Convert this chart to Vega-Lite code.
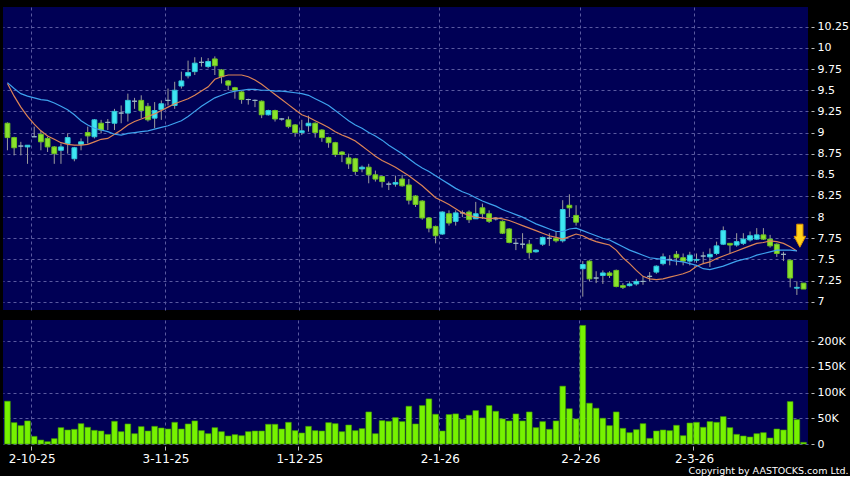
{
"$schema": "https://vega.github.io/schema/vega-lite/v6.json",
"background": "#000000",
"padding": {"left": 3, "top": 7, "right": 2, "bottom": 0},
"bounds": "flush",
"spacing": 10,
"config": {
  "view": {"fill": "#000055", "stroke": null},
  "font": "DejaVu Sans",
  "axis": {"labelColor": "#ffffff", "labelFont": "DejaVu Sans", "gridColor": "#5a5aa0", "gridDash": [3, 3], "gridWidth": 1, "domain": false, "title": null, "tickColor": "#bbbbbb", "labelOverlap": false, "labelBound": false, "labelFlush": false},
  "axisQuantitative": {"labelOverlap": false},
  "axisBand": {"labelOverlap": false}
},
"title": {"text": "Copyright by AASTOCKS.com Ltd.", "orient": "bottom", "anchor": "end", "frame": "bounds", "color": "#ffffff", "fontSize": 9.5, "fontWeight": "normal", "font": "DejaVu Sans", "offset": 2},
"datasets": {
"marker": [{"date": "2026-03-23", "price": 7.78}],
"candles": [
{"date":"2025-09-25","open":9.11,"high":9.12,"low":8.79,"close":8.94,"volume":83300,"ma10":9.58,"ma20":9.59},
{"date":"2025-09-26","open":8.94,"high":8.95,"low":8.73,"close":8.82,"volume":41600,"ma10":9.43,"ma20":9.52},
{"date":"2025-09-29","open":8.84,"high":8.89,"low":8.73,"close":8.84,"volume":35700,"ma10":9.30,"ma20":9.46},
{"date":"2025-09-30","open":8.83,"high":8.85,"low":8.63,"close":8.85,"volume":44900,"ma10":9.19,"ma20":9.43},
{"date":"2025-10-02","open":8.95,"high":9.07,"low":8.95,"close":8.95,"volume":14900,"ma10":9.10,"ma20":9.41},
{"date":"2025-10-03","open":8.98,"high":9.02,"low":8.79,"close":8.89,"volume":7700,"ma10":9.02,"ma20":9.39},
{"date":"2025-10-06","open":8.93,"high":8.95,"low":8.77,"close":8.83,"volume":4500,"ma10":8.96,"ma20":9.38},
{"date":"2025-10-08","open":8.83,"high":8.84,"low":8.63,"close":8.75,"volume":10400,"ma10":8.92,"ma20":9.35},
{"date":"2025-10-09","open":8.79,"high":8.87,"low":8.63,"close":8.83,"volume":31800,"ma10":8.88,"ma20":9.31},
{"date":"2025-10-10","open":8.87,"high":8.99,"low":8.75,"close":8.94,"volume":27300,"ma10":8.86,"ma20":9.27},
{"date":"2025-10-13","open":8.69,"high":8.83,"low":8.66,"close":8.82,"volume":28600,"ma10":8.85,"ma20":9.21},
{"date":"2025-10-14","open":8.86,"high":8.93,"low":8.79,"close":8.89,"volume":39600,"ma10":8.85,"ma20":9.14},
{"date":"2025-10-15","open":9.00,"high":9.07,"low":8.87,"close":8.96,"volume":32500,"ma10":8.86,"ma20":9.09},
{"date":"2025-10-16","open":8.95,"high":9.16,"low":8.93,"close":9.15,"volume":26600,"ma10":8.89,"ma20":9.05},
{"date":"2025-10-17","open":9.11,"high":9.15,"low":8.99,"close":9.03,"volume":25300,"ma10":8.92,"ma20":9.03},
{"date":"2025-10-20","open":9.12,"high":9.16,"low":9.03,"close":9.12,"volume":18800,"ma10":8.93,"ma20":9.01},
{"date":"2025-10-21","open":9.11,"high":9.28,"low":9.03,"close":9.25,"volume":44200,"ma10":8.98,"ma20":8.98},
{"date":"2025-10-22","open":9.23,"high":9.32,"low":9.11,"close":9.23,"volume":24000,"ma10":9.03,"ma20":8.97},
{"date":"2025-10-23","open":9.23,"high":9.46,"low":9.13,"close":9.38,"volume":39000,"ma10":9.09,"ma20":8.99},
{"date":"2025-10-24","open":9.37,"high":9.41,"low":9.28,"close":9.37,"volume":20100,"ma10":9.13,"ma20":9.00},
{"date":"2025-10-27","open":9.38,"high":9.44,"low":9.17,"close":9.26,"volume":33800,"ma10":9.16,"ma20":9.01},
{"date":"2025-10-28","open":9.31,"high":9.35,"low":9.13,"close":9.15,"volume":25300,"ma10":9.19,"ma20":9.02},
{"date":"2025-10-30","open":9.17,"high":9.36,"low":9.05,"close":9.26,"volume":34400,"ma10":9.22,"ma20":9.04},
{"date":"2025-10-31","open":9.27,"high":9.38,"low":9.15,"close":9.34,"volume":31200,"ma10":9.26,"ma20":9.06},
{"date":"2025-11-03","open":9.38,"high":9.52,"low":9.32,"close":9.38,"volume":29200,"ma10":9.30,"ma20":9.08},
{"date":"2025-11-04","open":9.32,"high":9.60,"low":9.28,"close":9.50,"volume":42200,"ma10":9.34,"ma20":9.11},
{"date":"2025-11-05","open":9.55,"high":9.72,"low":9.52,"close":9.61,"volume":29200,"ma10":9.37,"ma20":9.14},
{"date":"2025-11-06","open":9.67,"high":9.85,"low":9.64,"close":9.71,"volume":39000,"ma10":9.40,"ma20":9.19},
{"date":"2025-11-07","open":9.72,"high":9.89,"low":9.68,"close":9.82,"volume":44900,"ma10":9.44,"ma20":9.25},
{"date":"2025-11-10","open":9.83,"high":9.89,"low":9.78,"close":9.83,"volume":26000,"ma10":9.49,"ma20":9.31},
{"date":"2025-11-11","open":9.78,"high":9.88,"low":9.76,"close":9.84,"volume":20100,"ma10":9.54,"ma20":9.36},
{"date":"2025-11-12","open":9.87,"high":9.90,"low":9.68,"close":9.79,"volume":31800,"ma10":9.63,"ma20":9.41},
{"date":"2025-11-13","open":9.74,"high":9.75,"low":9.58,"close":9.66,"volume":24000,"ma10":9.66,"ma20":9.44},
{"date":"2025-11-14","open":9.61,"high":9.62,"low":9.50,"close":9.56,"volume":15600,"ma10":9.68,"ma20":9.47},
{"date":"2025-11-17","open":9.53,"high":9.54,"low":9.40,"close":9.50,"volume":18200,"ma10":9.68,"ma20":9.49},
{"date":"2025-11-18","open":9.48,"high":9.49,"low":9.34,"close":9.39,"volume":16200,"ma10":9.68,"ma20":9.50},
{"date":"2025-11-19","open":9.39,"high":9.40,"low":9.33,"close":9.39,"volume":24000,"ma10":9.66,"ma20":9.51},
{"date":"2025-11-20","open":9.38,"high":9.39,"low":9.30,"close":9.38,"volume":25300,"ma10":9.62,"ma20":9.51},
{"date":"2025-11-21","open":9.37,"high":9.38,"low":9.17,"close":9.21,"volume":25300,"ma10":9.57,"ma20":9.50},
{"date":"2025-11-24","open":9.21,"high":9.27,"low":9.20,"close":9.26,"volume":38400,"ma10":9.51,"ma20":9.50},
{"date":"2025-11-25","open":9.26,"high":9.27,"low":9.13,"close":9.16,"volume":38400,"ma10":9.45,"ma20":9.49},
{"date":"2025-11-26","open":9.16,"high":9.17,"low":9.14,"close":9.16,"volume":29200,"ma10":9.39,"ma20":9.49},
{"date":"2025-11-27","open":9.15,"high":9.19,"low":9.05,"close":9.07,"volume":42200,"ma10":9.33,"ma20":9.48},
{"date":"2025-11-28","open":9.09,"high":9.10,"low":8.95,"close":9.00,"volume":26000,"ma10":9.27,"ma20":9.47},
{"date":"2025-12-01","open":9.00,"high":9.15,"low":8.97,"close":9.02,"volume":21400,"ma10":9.21,"ma20":9.46},
{"date":"2025-12-02","open":9.08,"high":9.20,"low":9.01,"close":9.11,"volume":34400,"ma10":9.18,"ma20":9.44},
{"date":"2025-12-03","open":9.11,"high":9.12,"low":8.94,"close":9.00,"volume":26000,"ma10":9.14,"ma20":9.40},
{"date":"2025-12-04","open":9.03,"high":9.04,"low":8.89,"close":8.94,"volume":25300,"ma10":9.10,"ma20":9.36},
{"date":"2025-12-05","open":8.94,"high":8.95,"low":8.82,"close":8.88,"volume":41600,"ma10":9.06,"ma20":9.32},
{"date":"2025-12-08","open":8.88,"high":8.89,"low":8.71,"close":8.74,"volume":39600,"ma10":9.01,"ma20":9.26},
{"date":"2025-12-09","open":8.77,"high":8.78,"low":8.65,"close":8.74,"volume":24000,"ma10":8.97,"ma20":9.20},
{"date":"2025-12-10","open":8.70,"high":8.75,"low":8.57,"close":8.63,"volume":37000,"ma10":8.94,"ma20":9.14},
{"date":"2025-12-11","open":8.69,"high":8.70,"low":8.50,"close":8.54,"volume":26000,"ma10":8.90,"ma20":9.09},
{"date":"2025-12-12","open":8.57,"high":8.61,"low":8.53,"close":8.59,"volume":29900,"ma10":8.84,"ma20":9.05},
{"date":"2025-12-15","open":8.59,"high":8.63,"low":8.40,"close":8.50,"volume":62400,"ma10":8.78,"ma20":9.00},
{"date":"2025-12-16","open":8.50,"high":8.55,"low":8.42,"close":8.45,"volume":20100,"ma10":8.72,"ma20":8.96},
{"date":"2025-12-17","open":8.48,"high":8.49,"low":8.35,"close":8.42,"volume":45500,"ma10":8.67,"ma20":8.91},
{"date":"2025-12-18","open":8.39,"high":8.42,"low":8.32,"close":8.39,"volume":44200,"ma10":8.63,"ma20":8.85},
{"date":"2025-12-19","open":8.39,"high":8.49,"low":8.36,"close":8.41,"volume":51400,"ma10":8.59,"ma20":8.80},
{"date":"2025-12-22","open":8.45,"high":8.50,"low":8.36,"close":8.37,"volume":43600,"ma10":8.54,"ma20":8.75},
{"date":"2025-12-23","open":8.38,"high":8.45,"low":8.15,"close":8.20,"volume":73500,"ma10":8.49,"ma20":8.69},
{"date":"2025-12-24","open":8.25,"high":8.26,"low":8.12,"close":8.15,"volume":39000,"ma10":8.43,"ma20":8.63},
{"date":"2025-12-29","open":8.19,"high":8.20,"low":7.97,"close":7.99,"volume":74800,"ma10":8.37,"ma20":8.58},
{"date":"2025-12-30","open":7.99,"high":8.00,"low":7.82,"close":7.87,"volume":87800,"ma10":8.30,"ma20":8.54},
{"date":"2025-12-31","open":7.89,"high":7.90,"low":7.69,"close":7.78,"volume":57900,"ma10":8.23,"ma20":8.49},
{"date":"2026-01-02","open":7.80,"high":8.07,"low":7.79,"close":8.06,"volume":25300,"ma10":8.19,"ma20":8.44},
{"date":"2026-01-05","open":8.04,"high":8.08,"low":7.90,"close":7.93,"volume":57300,"ma10":8.15,"ma20":8.39},
{"date":"2026-01-06","open":7.95,"high":8.08,"low":7.90,"close":8.05,"volume":58600,"ma10":8.10,"ma20":8.34},
{"date":"2026-01-07","open":8.05,"high":8.08,"low":8.00,"close":8.05,"volume":48200,"ma10":8.05,"ma20":8.30},
{"date":"2026-01-08","open":8.06,"high":8.08,"low":7.93,"close":7.97,"volume":56000,"ma10":8.02,"ma20":8.27},
{"date":"2026-01-09","open":7.98,"high":8.18,"low":7.98,"close":8.04,"volume":65000,"ma10":8.00,"ma20":8.23},
{"date":"2026-01-12","open":8.11,"high":8.16,"low":7.98,"close":8.04,"volume":50700,"ma10":7.99,"ma20":8.19},
{"date":"2026-01-13","open":8.04,"high":8.08,"low":7.93,"close":7.95,"volume":74800,"ma10":7.98,"ma20":8.16},
{"date":"2026-01-14","open":7.98,"high":8.00,"low":7.96,"close":7.98,"volume":63700,"ma10":7.99,"ma20":8.13},
{"date":"2026-01-15","open":7.95,"high":7.96,"low":7.80,"close":7.81,"volume":48800,"ma10":7.98,"ma20":8.09},
{"date":"2026-01-16","open":7.86,"high":7.87,"low":7.69,"close":7.70,"volume":44900,"ma10":7.96,"ma20":8.06},
{"date":"2026-01-19","open":7.69,"high":7.75,"low":7.61,"close":7.69,"volume":58600,"ma10":7.93,"ma20":8.03},
{"date":"2026-01-20","open":7.68,"high":7.81,"low":7.63,"close":7.68,"volume":44900,"ma10":7.90,"ma20":8.00},
{"date":"2026-01-21","open":7.68,"high":7.73,"low":7.51,"close":7.58,"volume":62400,"ma10":7.87,"ma20":7.96},
{"date":"2026-01-22","open":7.59,"high":7.62,"low":7.58,"close":7.61,"volume":31800,"ma10":7.84,"ma20":7.92},
{"date":"2026-01-23","open":7.68,"high":7.77,"low":7.66,"close":7.76,"volume":43600,"ma10":7.81,"ma20":7.89},
{"date":"2026-01-26","open":7.75,"high":7.81,"low":7.66,"close":7.75,"volume":28600,"ma10":7.78,"ma20":7.86},
{"date":"2026-01-27","open":7.75,"high":7.83,"low":7.70,"close":7.72,"volume":44900,"ma10":7.76,"ma20":7.83},
{"date":"2026-01-28","open":7.72,"high":8.20,"low":7.70,"close":8.09,"volume":112600,"ma10":7.74,"ma20":7.83},
{"date":"2026-01-29","open":8.14,"high":8.27,"low":8.00,"close":8.11,"volume":68600,"ma10":7.77,"ma20":7.86},
{"date":"2026-01-30","open":8.02,"high":8.14,"low":7.90,"close":7.94,"volume":48800,"ma10":7.80,"ma20":7.87},
{"date":"2026-02-02","open":7.39,"high":7.48,"low":7.06,"close":7.44,"volume":230900,"ma10":7.78,"ma20":7.84},
{"date":"2026-02-03","open":7.48,"high":7.49,"low":7.24,"close":7.27,"volume":79400,"ma10":7.74,"ma20":7.81},
{"date":"2026-02-04","open":7.28,"high":7.36,"low":7.22,"close":7.28,"volume":69600,"ma10":7.71,"ma20":7.78},
{"date":"2026-02-05","open":7.31,"high":7.37,"low":7.21,"close":7.34,"volume":50100,"ma10":7.69,"ma20":7.75},
{"date":"2026-02-06","open":7.34,"high":7.36,"low":7.28,"close":7.31,"volume":35700,"ma10":7.67,"ma20":7.73},
{"date":"2026-02-09","open":7.37,"high":7.38,"low":7.17,"close":7.18,"volume":62400,"ma10":7.61,"ma20":7.69},
{"date":"2026-02-10","open":7.19,"high":7.22,"low":7.15,"close":7.17,"volume":30500,"ma10":7.52,"ma20":7.65},
{"date":"2026-02-11","open":7.19,"high":7.24,"low":7.18,"close":7.21,"volume":22100,"ma10":7.45,"ma20":7.61},
{"date":"2026-02-12","open":7.21,"high":7.27,"low":7.19,"close":7.24,"volume":27900,"ma10":7.37,"ma20":7.58},
{"date":"2026-02-13","open":7.24,"high":7.30,"low":7.20,"close":7.24,"volume":39600,"ma10":7.30,"ma20":7.55},
{"date":"2026-02-16","open":7.30,"high":7.35,"low":7.24,"close":7.30,"volume":11000,"ma10":7.27,"ma20":7.52},
{"date":"2026-02-20","open":7.35,"high":7.43,"low":7.33,"close":7.42,"volume":25300,"ma10":7.26,"ma20":7.51},
{"date":"2026-02-23","open":7.45,"high":7.57,"low":7.43,"close":7.53,"volume":27300,"ma10":7.27,"ma20":7.50},
{"date":"2026-02-24","open":7.50,"high":7.55,"low":7.43,"close":7.50,"volume":26000,"ma10":7.29,"ma20":7.49},
{"date":"2026-02-25","open":7.56,"high":7.60,"low":7.43,"close":7.52,"volume":36400,"ma10":7.31,"ma20":7.48},
{"date":"2026-02-26","open":7.52,"high":7.57,"low":7.43,"close":7.48,"volume":16200,"ma10":7.33,"ma20":7.47},
{"date":"2026-02-27","open":7.48,"high":7.59,"low":7.43,"close":7.55,"volume":40900,"ma10":7.36,"ma20":7.45},
{"date":"2026-03-02","open":7.49,"high":7.57,"low":7.46,"close":7.50,"volume":42200,"ma10":7.42,"ma20":7.43},
{"date":"2026-03-03","open":7.54,"high":7.59,"low":7.45,"close":7.54,"volume":32500,"ma10":7.45,"ma20":7.39},
{"date":"2026-03-04","open":7.53,"high":7.63,"low":7.41,"close":7.56,"volume":43600,"ma10":7.47,"ma20":7.38},
{"date":"2026-03-05","open":7.57,"high":7.71,"low":7.55,"close":7.66,"volume":42200,"ma10":7.51,"ma20":7.40},
{"date":"2026-03-06","open":7.68,"high":7.89,"low":7.67,"close":7.84,"volume":53300,"ma10":7.54,"ma20":7.42},
{"date":"2026-03-09","open":7.69,"high":7.69,"low":7.57,"close":7.67,"volume":31800,"ma10":7.57,"ma20":7.45},
{"date":"2026-03-10","open":7.67,"high":7.81,"low":7.65,"close":7.71,"volume":18800,"ma10":7.60,"ma20":7.48},
{"date":"2026-03-11","open":7.69,"high":7.81,"low":7.67,"close":7.74,"volume":15600,"ma10":7.63,"ma20":7.50},
{"date":"2026-03-12","open":7.73,"high":7.83,"low":7.71,"close":7.78,"volume":13600,"ma10":7.66,"ma20":7.52},
{"date":"2026-03-13","open":7.74,"high":7.87,"low":7.73,"close":7.79,"volume":20100,"ma10":7.69,"ma20":7.55},
{"date":"2026-03-16","open":7.79,"high":7.87,"low":7.73,"close":7.74,"volume":22100,"ma10":7.70,"ma20":7.57},
{"date":"2026-03-17","open":7.74,"high":7.79,"low":7.64,"close":7.66,"volume":11700,"ma10":7.72,"ma20":7.59},
{"date":"2026-03-18","open":7.68,"high":7.69,"low":7.53,"close":7.57,"volume":29200,"ma10":7.71,"ma20":7.61},
{"date":"2026-03-19","open":7.56,"high":7.59,"low":7.48,"close":7.56,"volume":27300,"ma10":7.69,"ma20":7.61},
{"date":"2026-03-20","open":7.49,"high":7.50,"low":7.17,"close":7.28,"volume":82600,"ma10":7.65,"ma20":7.61},
{"date":"2026-03-23","open":7.16,"high":7.24,"low":7.08,"close":7.17,"volume":47500,"ma10":7.60,"ma20":7.60},
{"date":"2026-03-24","open":7.22,"high":7.22,"low":7.15,"close":7.15,"volume":3200}
]
},
"vconcat": [
{
  "width": 805,
  "height": 303,
  "data": {"name": "candles"},
  "encoding": {
    "x": {"field": "date", "type": "ordinal", "sort": null,
      "scale": {"paddingInner": 0.28, "paddingOuter": 0.305},
      "axis": {"values": ["2025-10-02","2025-11-03","2025-12-01","2026-01-02","2026-02-02","2026-03-02"], "bandPosition": 0, "labels": false, "ticks": false, "grid": true, "domain": false, "title": null}}
  },
  "layer": [
    {"mark": {"type": "rule", "color": "#9c9c9c", "strokeWidth": 1},
     "encoding": {
       "y": {"field": "low", "type": "quantitative", "scale": {"domain": [6.902, 10.484], "zero": false, "nice": false},
         "axis": {"orient": "right", "values": [7, 7.25, 7.5, 7.75, 8, 8.25, 8.5, 8.75, 9, 9.25, 9.5, 9.75, 10, 10.25], "labelExpr": "'' + datum.value", "labelOverlap": false, "grid": true, "tickSize": 3, "offset": 3, "labelPadding": 3, "labelFontSize": 11, "title": null}},
       "y2": {"field": "high"}}},
    {"mark": {"type": "bar", "strokeWidth": 1},
     "encoding": {
       "y": {"field": "open", "type": "quantitative", "scale": {"domain": [6.902, 10.484], "zero": false, "nice": false},
         "axis": {"orient": "right", "values": [7, 7.25, 7.5, 7.75, 8, 8.25, 8.5, 8.75, 9, 9.25, 9.5, 9.75, 10, 10.25], "labelExpr": "'' + datum.value", "labelOverlap": false, "grid": true, "tickSize": 3, "offset": 3, "labelPadding": 3, "labelFontSize": 11, "title": null}},
       "y2": {"field": "close"},
       "fill": {"condition": [{"test": "datum.close > datum.open", "value": "#3ee6f2"}, {"test": "datum.close < datum.open", "value": "#8ae22c"}], "value": "#9ab8c8"},
       "stroke": {"condition": [{"test": "datum.close > datum.open", "value": "#2fc8d8"}, {"test": "datum.close < datum.open", "value": "#6cc020"}], "value": "#9ab8c8"}}},
    {"mark": {"type": "line", "color": "#dc8456", "strokeWidth": 1.2},
     "encoding": {"y": {"field": "ma10", "type": "quantitative", "scale": {"domain": [6.902, 10.484], "zero": false, "nice": false},
         "axis": {"orient": "right", "values": [7, 7.25, 7.5, 7.75, 8, 8.25, 8.5, 8.75, 9, 9.25, 9.5, 9.75, 10, 10.25], "labelExpr": "'' + datum.value", "labelOverlap": false, "grid": true, "tickSize": 3, "offset": 3, "labelPadding": 3, "labelFontSize": 11, "title": null}}}},
    {"mark": {"type": "line", "color": "#3ea2ee", "strokeWidth": 1.2},
     "encoding": {"y": {"field": "ma20", "type": "quantitative", "scale": {"domain": [6.902, 10.484], "zero": false, "nice": false},
         "axis": {"orient": "right", "values": [7, 7.25, 7.5, 7.75, 8, 8.25, 8.5, 8.75, 9, 9.25, 9.5, 9.75, 10, 10.25], "labelExpr": "'' + datum.value", "labelOverlap": false, "grid": true, "tickSize": 3, "offset": 3, "labelPadding": 3, "labelFontSize": 11, "title": null}}}},
    {"data": {"name": "marker"},
     "mark": {"type": "point", "shape": "M -0.27 -1 L 0.27 -1 L 0.27 0.05 L 0.5 0.05 L 0 1 L -0.5 0.05 L -0.27 0.05 Z", "filled": true, "size": 529, "fill": "#ffd21a", "stroke": "#e09400", "strokeWidth": 1, "opacity": 1, "xOffset": 3},
     "encoding": {"y": {"field": "price", "type": "quantitative", "scale": {"domain": [6.902, 10.484], "zero": false, "nice": false},
         "axis": {"orient": "right", "values": [7, 7.25, 7.5, 7.75, 8, 8.25, 8.5, 8.75, 9, 9.25, 9.5, 9.75, 10, 10.25], "labelExpr": "'' + datum.value", "labelOverlap": false, "grid": true, "tickSize": 3, "offset": 3, "labelPadding": 3, "labelFontSize": 11, "title": null}}}}
  ]
},
{
  "width": 805,
  "height": 124,
  "data": {"name": "candles"},
  "mark": {"type": "bar", "fill": "#76f200", "stroke": "#3f9a00", "strokeWidth": 0.6},
  "encoding": {
    "x": {"field": "date", "type": "ordinal", "sort": null,
      "scale": {"paddingInner": 0.15, "paddingOuter": 0.24},
      "axis": {"values": ["2025-10-02","2025-11-03","2025-12-01","2026-01-02","2026-02-02","2026-03-02"], "bandPosition": 0, "labelExpr": "toNumber(substring(datum.value, 8, 10)) + '-' + toNumber(substring(datum.value, 5, 7)) + '-' + substring(datum.value, 2, 4)", "labelAngle": 0, "labelOverlap": false, "labelFontSize": 12, "labelOffset": -2, "tickSize": 4, "offset": 2, "labelPadding": 3, "grid": true, "domain": false, "title": null}},
    "y": {"field": "volume", "type": "quantitative", "scale": {"domain": [0, 241400], "nice": false},
      "axis": {"orient": "right", "values": [0, 50000, 100000, 150000, 200000], "labelExpr": "datum.value == 0 ? '0' : (datum.value / 1000) + 'K'", "labelOverlap": false, "grid": true, "tickSize": 3, "offset": 3, "labelPadding": 3, "labelFontSize": 11, "title": null}}
  }
}
]
}
